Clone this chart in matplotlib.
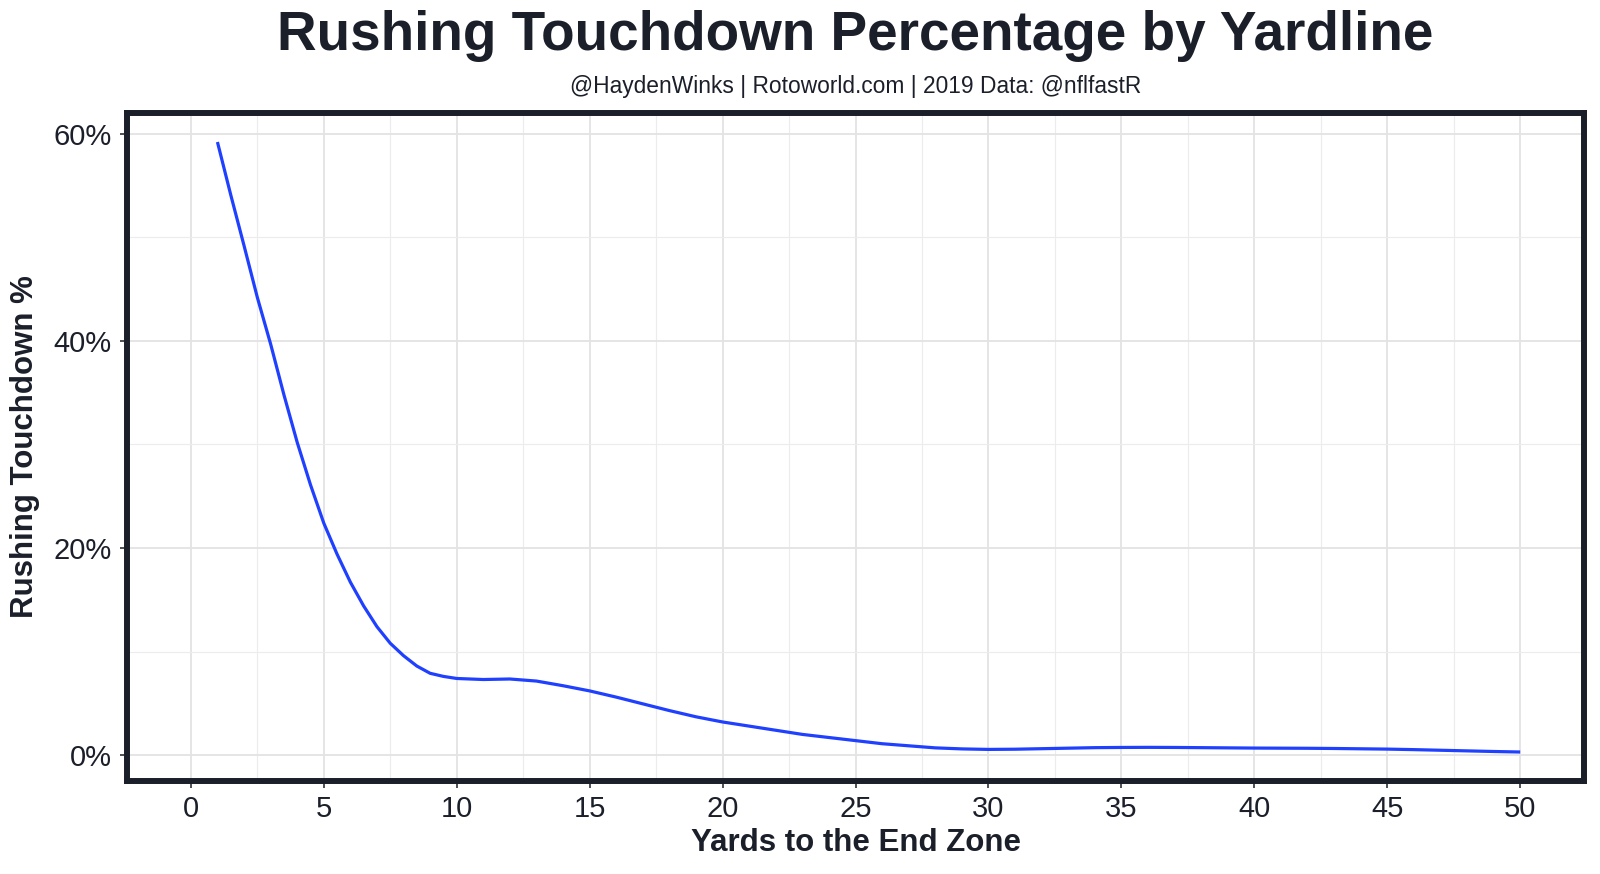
import numpy as np
import matplotlib.pyplot as plt
from matplotlib.ticker import FuncFormatter, MultipleLocator

# values (yards to go -> rushing TD %)
# half-yard readings where the curve bends sharply
yards = [1, 1.5, 2, 2.5, 3, 3.5, 4, 4.5, 5, 5.5, 6, 6.5, 7, 7.5, 8, 8.5, 9, 9.5, 10,
         11, 12, 13, 14, 15, 16, 17, 18, 19, 20,
         21, 22, 23, 24, 25, 26, 27, 28, 29, 30,
         31, 32, 33, 34, 35, 36, 37, 38, 39, 40,
         41, 42, 43, 44, 45, 46, 47, 48, 49, 50]
td_pct = [59.2, 54.1, 49.2, 44.2, 39.7, 34.8, 30.2, 26.1, 22.4, 19.4, 16.7, 14.4, 12.4, 10.8,
          9.6, 8.6, 7.9, 7.6, 7.4,
          7.3, 7.35, 7.15, 6.7, 6.2, 5.6, 4.95, 4.3, 3.7, 3.2,
          2.8, 2.4, 2.0, 1.7, 1.4, 1.1, 0.9, 0.7, 0.6, 0.55,
          0.57, 0.62, 0.67, 0.72, 0.74, 0.75, 0.74, 0.72, 0.70, 0.68,
          0.67, 0.66, 0.64, 0.61, 0.58, 0.53, 0.47, 0.41, 0.35, 0.30]

x_ticks = [0, 5, 10, 15, 20, 25, 30, 35, 40, 45, 50]
y_ticks = [0, 20, 40, 60]

dark = '#1b1f2a'
plt.rcParams['font.family'] = ['Liberation Sans', 'DejaVu Sans']

fig = plt.figure(figsize=(16, 8.74), dpi=100)
left, bottom, width, height = 0.0794, 0.1064, 0.9106, 0.7643
ax = fig.add_axes([left, bottom, width, height])

ax.plot(yards, td_pct, color='#1f40ff', linewidth=2.3, solid_capstyle='butt',
        solid_joinstyle='round', zorder=3)

ax.set_xlim(-2.4, 52.4)
ax.set_ylim(-2.5, 62.0)
ax.set_xticks(x_ticks)
ax.set_yticks(y_ticks)
ax.xaxis.set_minor_locator(MultipleLocator(2.5))
ax.yaxis.set_minor_locator(MultipleLocator(10))
ax.yaxis.set_major_formatter(FuncFormatter(lambda v, p: f'{v:.0f}%'))

ax.grid(True, which='major', color='#e3e3e3', linewidth=1.3)
ax.grid(True, which='minor', color='#ececec', linewidth=0.8)
ax.set_axisbelow(True)

for s in ax.spines.values():
    s.set_linewidth(4.3)
    s.set_color(dark)

ax.tick_params(which='major', length=5, width=1.1, color=dark, labelsize=21,
               labelcolor=dark)
ax.tick_params(axis='x', pad=5)
ax.tick_params(axis='y', pad=6)
ax.tick_params(which='minor', length=0)

ax.set_xlabel('Yards to the End Zone', fontsize=22.5, fontweight='bold', color=dark, labelpad=4)
ax.set_ylabel('Rushing Touchdown %', fontsize=22.5, fontweight='bold', color=dark, labelpad=10)

# titles centred over the panel, not the figure
cx = left + width / 2
fig.text(cx, 1 - 36 / 874, 'Rushing Touchdown Percentage by Yardline', ha='center', va='center',
         fontsize=39.5, fontweight='bold', color=dark)
fig.text(cx, 1 - 86 / 874, '@HaydenWinks | Rotoworld.com | 2019 Data: @nflfastR', ha='center',
         va='center', fontsize=16.4, color=dark)

fig.savefig('out.png', dpi=100, facecolor='white')
